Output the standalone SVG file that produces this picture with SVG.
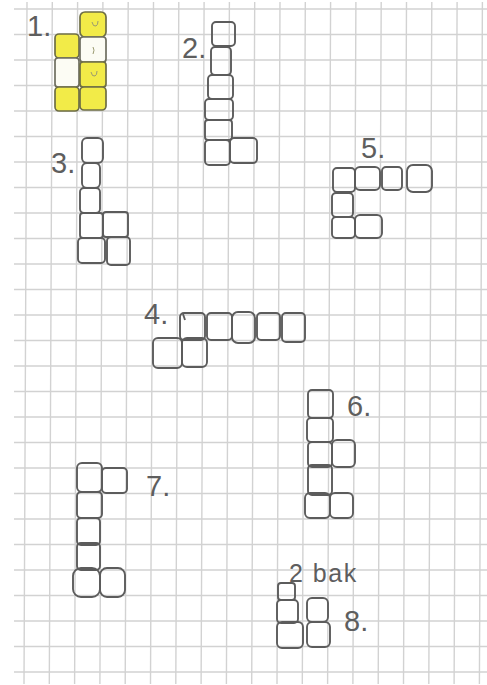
<svg xmlns="http://www.w3.org/2000/svg" width="487" height="685" viewBox="0 0 487 685">
<defs>
<style>
.grid{stroke:#d2d2d2;stroke-width:1.4;fill:none}
.c{fill:none;stroke:#5c5c5c;stroke-width:1.9;stroke-linejoin:round}
.y{fill:#f2eb48;stroke:#6e6e45;stroke-width:1.7}
.w{fill:#fcfcf4;stroke:#6e6e60;stroke-width:1.7}
.m{fill:none;stroke:#9a9a70;stroke-width:1}
.t{font-family:"Liberation Sans",Arial,sans-serif;fill:#5e5e5e;font-size:29px}
.s{font-family:"Liberation Sans",Arial,sans-serif;fill:#5e5e5e;font-size:25px;letter-spacing:1.5px}
</style>
</defs>
<rect width="487" height="685" fill="#ffffff"/>
<g id="grid" class="grid">
<path d="M14 9H487M14 34.5H487M14 60H487M14 85.5H487M14 111H487M14 136.5H487M14 162H487M14 187.5H487M14 213H487M14 238.5H487M14 264H487M14 289.5H487M14 315H487M14 340.5H487M14 366H487M14 391.5H487M14 417H487M14 442.5H487M14 468H487M14 493.5H487M14 519H487M14 544.5H487M14 570H487M14 595.5H487M14 621H487M14 646.5H487M14 672H487"/>
<path d="M27 2L24 684M52.3 2L49.3 684M77.6 2L74.6 684M102.9 2L99.9 684M128.2 2L125.2 684M153.5 2L150.5 684M178.8 2L175.8 684M204.1 2L201.1 684M229.4 2L226.4 684M254.7 2L251.7 684M280 2L277 684M305.3 2L302.3 684M330.6 2L327.6 684M355.9 2L352.9 684M381.2 2L378.2 684M406.5 2L403.5 684M431.8 2L428.8 684M457.1 2L454.1 684M482.4 2L479.4 684"/>
</g>
<g id="figure1">
<rect class="y" x="55" y="34" width="24" height="24" rx="4"/>
<rect class="w" x="55" y="58" width="24" height="29" rx="3"/>
<rect class="y" x="55" y="87" width="24" height="24" rx="4"/>
<rect class="y" x="80" y="12" width="26" height="25" rx="5"/>
<rect class="w" x="80" y="37" width="26" height="25" rx="3"/>
<rect class="y" x="80" y="62" width="26" height="25" rx="3"/>
<rect class="y" x="80" y="87" width="26" height="23" rx="4"/>
<path class="m" d="M92 22q1 5 4 4q2-1 2-5M93 47q2 3 0 7M91 72q1 5 4 4q2-1 2-5"/>
<text class="t" x="27" y="36">1.</text>
</g>
<g id="figure2" class="c">
<rect x="212" y="22" width="23" height="24" rx="4"/>
<rect x="211" y="47" width="20" height="28" rx="4"/>
<rect x="208" y="75" width="25" height="24" rx="4"/>
<rect x="205" y="99" width="28" height="21" rx="4"/>
<rect x="205" y="120" width="27" height="20" rx="3"/>
<rect x="205" y="140" width="25" height="25" rx="4"/>
<rect x="230" y="138" width="27" height="25" rx="4"/>
<text class="t" x="182" y="58" stroke="none">2.</text>
</g>
<g id="figure3" class="c">
<rect x="82" y="138" width="21" height="25" rx="5"/>
<rect x="82" y="163" width="18" height="25" rx="5"/>
<rect x="80" y="188" width="20" height="25" rx="4"/>
<rect x="80" y="213" width="23" height="25" rx="3"/>
<rect x="103" y="212" width="25" height="25" rx="3"/>
<rect x="78" y="238" width="27" height="25" rx="4"/>
<rect x="107" y="237" width="23" height="28" rx="4"/>
<text class="t" x="51" y="173" stroke="none">3.</text>
</g>
<g id="figure4" class="c">
<rect x="180" y="313" width="25" height="27" rx="4"/>
<rect x="207" y="313" width="25" height="27" rx="4"/>
<rect x="232" y="312" width="23" height="31" rx="6"/>
<rect x="257" y="313" width="23" height="27" rx="4"/>
<rect x="282" y="313" width="23" height="29" rx="4"/>
<rect x="153" y="338" width="29" height="30" rx="5"/>
<rect x="182" y="338" width="25" height="29" rx="5"/>
<path d="M183 314l2 6"/>
<text class="t" x="144" y="324" stroke="none">4.</text>
</g>
<g id="figure5" class="c">
<rect x="333" y="168" width="22" height="24" rx="4"/>
<rect x="355" y="167" width="25" height="23" rx="5"/>
<rect x="382" y="167" width="20" height="23" rx="4"/>
<rect x="407" y="165" width="25" height="27" rx="6"/>
<rect x="332" y="193" width="21" height="24" rx="4"/>
<rect x="332" y="217" width="23" height="21" rx="4"/>
<rect x="355" y="215" width="27" height="23" rx="5"/>
<text class="t" x="361" y="158" stroke="none">5.</text>
</g>
<g id="figure6" class="c">
<rect x="308" y="390" width="25" height="28" rx="4"/>
<rect x="307" y="418" width="26" height="24" rx="4"/>
<rect x="308" y="442" width="24" height="25" rx="4"/>
<rect x="332" y="440" width="23" height="27" rx="5"/>
<rect x="308" y="465" width="24" height="30" rx="4"/>
<rect x="305" y="493" width="25" height="25" rx="5"/>
<rect x="330" y="493" width="23" height="25" rx="5"/>
<text class="t" x="347" y="416" stroke="none">6.</text>
</g>
<g id="figure7" class="c">
<rect x="77" y="463" width="25" height="29" rx="5"/>
<rect x="102" y="468" width="25" height="25" rx="4"/>
<rect x="77" y="492" width="25" height="26" rx="4"/>
<rect x="77" y="518" width="23" height="27" rx="4"/>
<rect x="77" y="543" width="23" height="27" rx="4"/>
<rect x="73" y="568" width="27" height="29" rx="8"/>
<rect x="100" y="568" width="25" height="29" rx="7"/>
<text class="t" x="146" y="496" stroke="none">7.</text>
</g>
<g id="figure8" class="c">
<rect x="278" y="583" width="17" height="17" rx="3"/>
<rect x="277" y="600" width="21" height="23" rx="4"/>
<rect x="307" y="598" width="21" height="24" rx="5"/>
<rect x="277" y="622" width="26" height="26" rx="5"/>
<rect x="307" y="622" width="23" height="25" rx="5"/>
<text class="s" x="289" y="582" stroke="none">2 bak</text>
<text class="t" x="344" y="631" stroke="none">8.</text>
</g>
</svg>
